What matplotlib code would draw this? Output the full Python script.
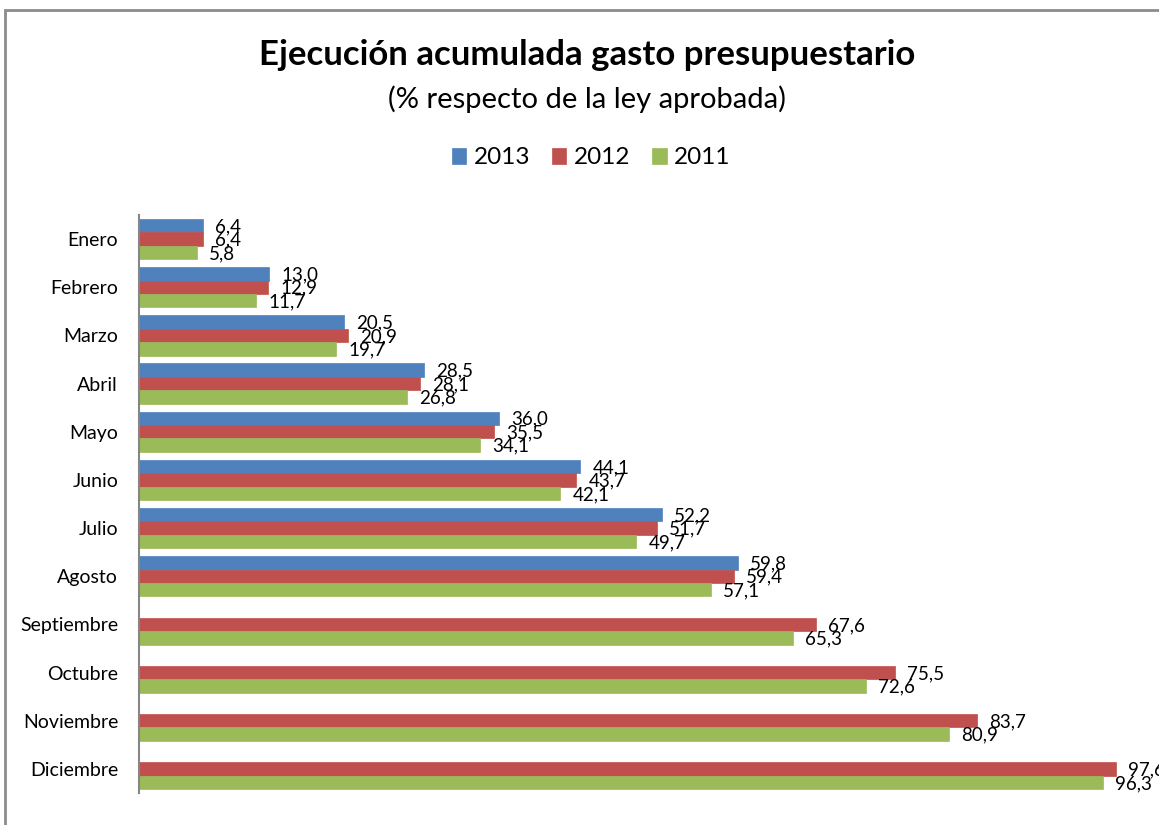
import matplotlib
matplotlib.use("Agg")
import matplotlib.pyplot as plt
from matplotlib.patches import Rectangle
import numpy as np

plt.rcParams['font.family'] = ['Lato', 'DejaVu Sans']

meses = ["Enero", "Febrero", "Marzo", "Abril", "Mayo", "Junio", "Julio", "Agosto",
         "Septiembre", "Octubre", "Noviembre", "Diciembre"]
s2013 = [6.4, 13.0, 20.5, 28.5, 36.0, 44.1, 52.2, 59.8, None, None, None, None]
s2012 = [6.4, 12.9, 20.9, 28.1, 35.5, 43.7, 51.7, 59.4, 67.6, 75.5, 83.7, 97.6]
s2011 = [5.8, 11.7, 19.7, 26.8, 34.1, 42.1, 49.7, 57.1, 65.3, 72.6, 80.9, 96.3]
series = [("2013", s2013, "#4F81BD"), ("2012", s2012, "#C0504D"), ("2011", s2011, "#9BBB59")]

W, H = 1159, 825
fig = plt.figure(figsize=(W / 100, H / 100), dpi=100)
fig.patch.set_facecolor("white")

# outer chart border
fig.patches.append(Rectangle((5 / W, -0.05), 1.2, (H - 10) / H + 0.05, transform=fig.transFigure,
                             fill=False, edgecolor="#8c8c8c", linewidth=2))

left, right = 139, 1140
top, bottom = 215, 793
ax = fig.add_axes([left / W, 1 - bottom / H, (right - left) / W, (bottom - top) / H])

n = len(meses)
y = np.arange(n)
bh = 0.28
offsets = [-bh, 0, bh]
handles = []
for (name, vals, col), off in zip(series, offsets):
    idx = [i for i, v in enumerate(vals) if v is not None]
    v = [vals[i] for i in idx]
    bars = ax.barh(y[idx] + off, v, height=bh, color=col, edgecolor=col, linewidth=0.5, label=name)
    handles.append(bars)
    for i, val in zip(idx, v):
        ax.annotate(f"{val:.1f}".replace(".", ","), xy=(val, y[i] + off), xytext=(12, -1),
                    textcoords="offset pixels",
                    ha="left", va="center", fontsize=13.5, color="black", annotation_clip=False)

ax.set_xlim(0, 100)
ax.set_ylim(n - 0.5, -0.5)
ax.set_yticks(y)
ax.set_yticklabels(meses, fontsize=14)
ax.tick_params(axis="y", length=0, pad=15)
ax.set_xticks([])
for s in ["top", "right", "bottom"]:
    ax.spines[s].set_visible(False)
ax.spines["left"].set_color("#868686")
ax.spines["left"].set_linewidth(1.5)

fig.text(587 / W, 1 - 55 / H, "Ejecución acumulada gasto presupuestario", ha="center", va="center",
         fontsize=25, fontweight="bold")
fig.text(587 / W, 1 - 99 / H, "(% respecto de la ley aprobada)", ha="center", va="center", fontsize=21)

fig.legend(handles=handles, loc="center", bbox_to_anchor=(591 / W, 1 - 158 / H), ncol=3, frameon=False,
           fontsize=17.5, handlelength=0.6, handleheight=0.6, handletextpad=0.3, columnspacing=0.9)

fig.savefig("out.png", dpi=100)
